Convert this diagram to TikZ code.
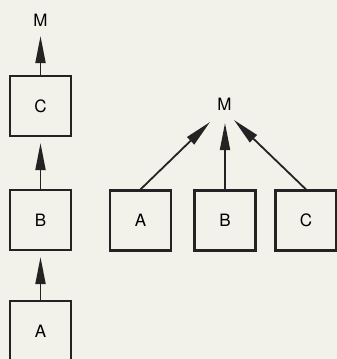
\documentclass[tikz,border=0pt]{standalone}
\usepackage{fontspec}
\setmainfont{TeX Gyre Heros}
\usetikzlibrary{arrows.meta}
\definecolor{paper}{RGB}{242,242,234}
\definecolor{ink}{RGB}{35,35,35}
\begin{document}
\begin{tikzpicture}[x=1pt,y=-1pt,
  box/.style={draw=ink,line width=2.2pt,minimum width=61pt,minimum height=60pt,inner sep=0pt,font=\fontsize{17}{17}\selectfont},
  lbl/.style={inner sep=0pt,font=\fontsize{17}{17}\selectfont},
  arr/.style={line width=1.8pt,draw=ink,-{Triangle[length=27pt,width=10pt]}}]
\fill[paper] (0,0) rectangle (337,359);
\useasboundingbox (0,0) rectangle (337,359);
% left column
\node[lbl] (M1) at (40.5,20) {M};
\node[box] (C1) at (40.5,106) {C};
\node[box] (B1) at (40.5,220) {B};
\node[box] (A1) at (40.5,331) {A};
\coordinate (t1) at (40.5,36);
\coordinate (t2) at (40.5,143);
\coordinate (t3) at (40.5,257);
\draw[arr] (C1.north) -- (t1);
\draw[arr] (B1.north) -- (t2);
\draw[arr] (A1.north) -- (t3);
% right group
\node[lbl] (M2) at (224.5,104) {M};
\node[box] (A2) at (140.5,220.5) {A};
\node[box] (B2) at (225,220.5) {B};
\node[box] (C2) at (306,220.5) {C};
\coordinate (u1) at (210,122);
\coordinate (u2) at (225,123);
\coordinate (u3) at (234,120);
\draw[arr] (A2.north) -- (u1);
\draw[arr] (B2.north) -- (u2);
\draw[arr] (C2.north) -- (u3);
\end{tikzpicture}
\end{document}
